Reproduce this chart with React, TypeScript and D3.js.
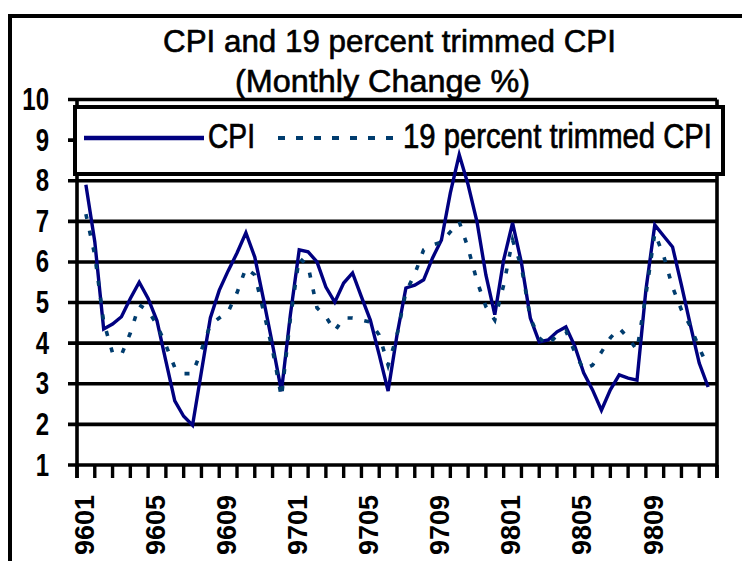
import React from 'react';
import * as d3 from 'd3';

// ---- data -------------------------------------------------------------
const months = [
  '9601', '9602', '9603', '9604', '9605', '9606', '9607', '9608', '9609', '9610', '9611', '9612',
  '9701', '9702', '9703', '9704', '9705', '9706', '9707', '9708', '9709', '9710', '9711', '9712',
  '9801', '9802', '9803', '9804', '9805', '9806', '9807', '9808', '9809', '9810', '9811', '9812',
];
const labelEvery = 4;
const yTicks = [1, 2, 3, 4, 5, 6, 7, 8, 9, 10];

// readings at half-month steps, starting 9601
const cpi = [
  7.9, 6.5, 4.35, 4.47, 4.65, 5.1, 5.5, 5.1, 4.55, 3.56,
  2.58, 2.2, 1.98, 3.3, 4.62, 5.3, 5.78, 6.22, 6.72, 6.12,
  5.06, 3.96, 2.82, 4.69, 6.3, 6.25, 6.0, 5.38, 5.01, 5.48,
  5.73, 5.14, 4.57, 3.71, 2.82, 4.2, 5.36, 5.43, 5.56, 6.1,
  6.54, 7.7, 8.64, 7.9, 6.99, 5.68, 4.7, 6.05, 6.96, 5.98,
  4.62, 4.03, 4.08, 4.28, 4.4, 3.93, 3.27, 2.85, 2.35, 2.85,
  3.22, 3.14, 3.09, 5.31, 6.91, 6.64, 6.37, 5.43, 4.45, 3.51,
  2.92,
];
const trimmed = [
  7.18, 6.17, 4.52, 3.76, 3.71, 4.25, 4.94, 4.8, 4.45, 3.95,
  3.4, 3.25, 3.25, 3.83, 4.45, 4.62, 4.77, 5.24, 5.85, 5.68,
  4.77, 3.83, 2.67, 4.6, 6.1, 5.9, 4.87, 4.65, 4.3, 4.62,
  4.62, 4.57, 4.52, 4.2, 3.46, 4.2, 5.26, 5.7, 6.3, 6.42,
  6.49, 6.74, 6.99, 6.34, 5.53, 4.9, 4.57, 5.43, 6.54, 5.88,
  4.62, 4.13, 3.95, 4.2, 4.3, 3.78, 3.34, 3.46, 3.78, 4.13,
  4.37, 4.13, 3.83, 5.19, 6.71, 6.15, 5.38, 4.82, 4.42, 3.88,
  3.41,
];
const seriesNames = ['CPI', '19 percent trimmed CPI'];
const titleText = 'CPI and 19 percent trimmed CPI';
const subtitleText = '(Monthly Change %)';

// ---- styles -----------------------------------------------------------
const W = 742;
const H = 561;
const cpiColor = '#000080';
const trimColor = '#003c6e';
const font = '"Liberation Sans", Arial, sans-serif';

export default function App() {
  const plotLeft = 77;
  const plotRight = 717;
  const x = d3.scaleBand<string>().domain(months).range([plotLeft, plotRight]).padding(0);
  const xPos = d3
    .scaleLinear()
    .domain([-0.5, months.length - 0.5])
    .range([plotLeft, plotRight]);
  const y = d3.scaleLinear().domain([1, 10]).range([465, 99.5]);

  const line = d3
    .line<number>()
    .x((_, i) => xPos(i / 2))
    .y((d) => y(d));

  const bw = x.bandwidth();
  const tickXs = months.map((m) => x(m) as number).concat([plotRight]);

  return (
    <svg
      width={W}
      height={H}
      style={{ position: 'absolute', left: 0, top: 0, display: 'block', background: '#fff' }}
      fontFamily={font}
    >
      <rect x={0} y={0} width={W} height={H} fill="#fff" />
      {/* outer frame */}
      <line x1={8} x2={W} y1={16} y2={16} stroke="#000" strokeWidth={4} />
      <line x1={10} x2={10} y1={14} y2={H} stroke="#000" strokeWidth={4} />

      {/* titles */}
      <text
        x={163}
        y={52}
        fontSize={31}
        textLength={453}
        lengthAdjust="spacingAndGlyphs"
        stroke="#000"
        strokeWidth={0.6}
      >
        {titleText}
      </text>
      <text
        x={235}
        y={92}
        fontSize={31}
        textLength={295}
        lengthAdjust="spacingAndGlyphs"
        stroke="#000"
        strokeWidth={0.6}
      >
        {subtitleText}
      </text>

      {/* gridlines + y axis labels */}
      {yTicks.map((v) => (
        <g key={v}>
          <line x1={68} x2={plotRight} y1={y(v)} y2={y(v)} stroke="#000" strokeWidth={3.6} />
          <text
            transform={`translate(49, ${y(v) - 1}) scale(0.75, 1)`}
            textAnchor="end"
            dy="0.36em"
            fontSize={32}
            fontWeight="bold"
          >
            {v}
          </text>
        </g>
      ))}
      {/* axes borders */}
      <line x1={plotLeft} x2={plotLeft} y1={y(10)} y2={478} stroke="#000" strokeWidth={3.6} />
      <line x1={plotRight} x2={plotRight} y1={y(10)} y2={478} stroke="#000" strokeWidth={3.6} />
      {/* x ticks */}
      {tickXs.map((tx, i) => (
        <line key={i} x1={tx} x2={tx} y1={y(1)} y2={478} stroke="#000" strokeWidth={3.4} />
      ))}
      {/* x labels */}
      {months.map((m, i) =>
        i % labelEvery === 0 ? (
          <text
            key={m}
            transform={`translate(${(x(m) as number) + bw / 2 - 2}, 495) rotate(-90)`}
            textAnchor="end"
            dy="0.36em"
            fontSize={27}
            fontWeight="bold"
          >
            {m}
          </text>
        ) : null
      )}

      {/* legend */}
      <rect x={75} y={107} width={648} height={67} fill="#fff" stroke="#000" strokeWidth={4} />
      <line x1={84} x2={204} y1={138} y2={138} stroke={cpiColor} strokeWidth={4.5} />
      <text
        transform="translate(208, 148) scale(1, 1.18)"
        fontSize={29}
        textLength={47}
        lengthAdjust="spacingAndGlyphs"
        stroke="#000"
        strokeWidth={0.6}
      >
        {seriesNames[0]}
      </text>
      <line
        x1={278}
        x2={400}
        y1={138}
        y2={138}
        stroke={trimColor}
        strokeWidth={4}
        strokeDasharray="7 11"
      />
      <text
        transform="translate(403, 148) scale(1, 1.18)"
        fontSize={29}
        textLength={309}
        lengthAdjust="spacingAndGlyphs"
        stroke="#000"
        strokeWidth={0.6}
      >
        {seriesNames[1]}
      </text>

      {/* series */}
      <path d={line(cpi) || ''} fill="none" stroke={cpiColor} strokeWidth={3.4} strokeLinejoin="miter" />
      <path
        d={line(trimmed) || ''}
        fill="none"
        stroke={trimColor}
        strokeWidth={3.6}
        strokeDasharray="5 12"
      />
    </svg>
  );
}
